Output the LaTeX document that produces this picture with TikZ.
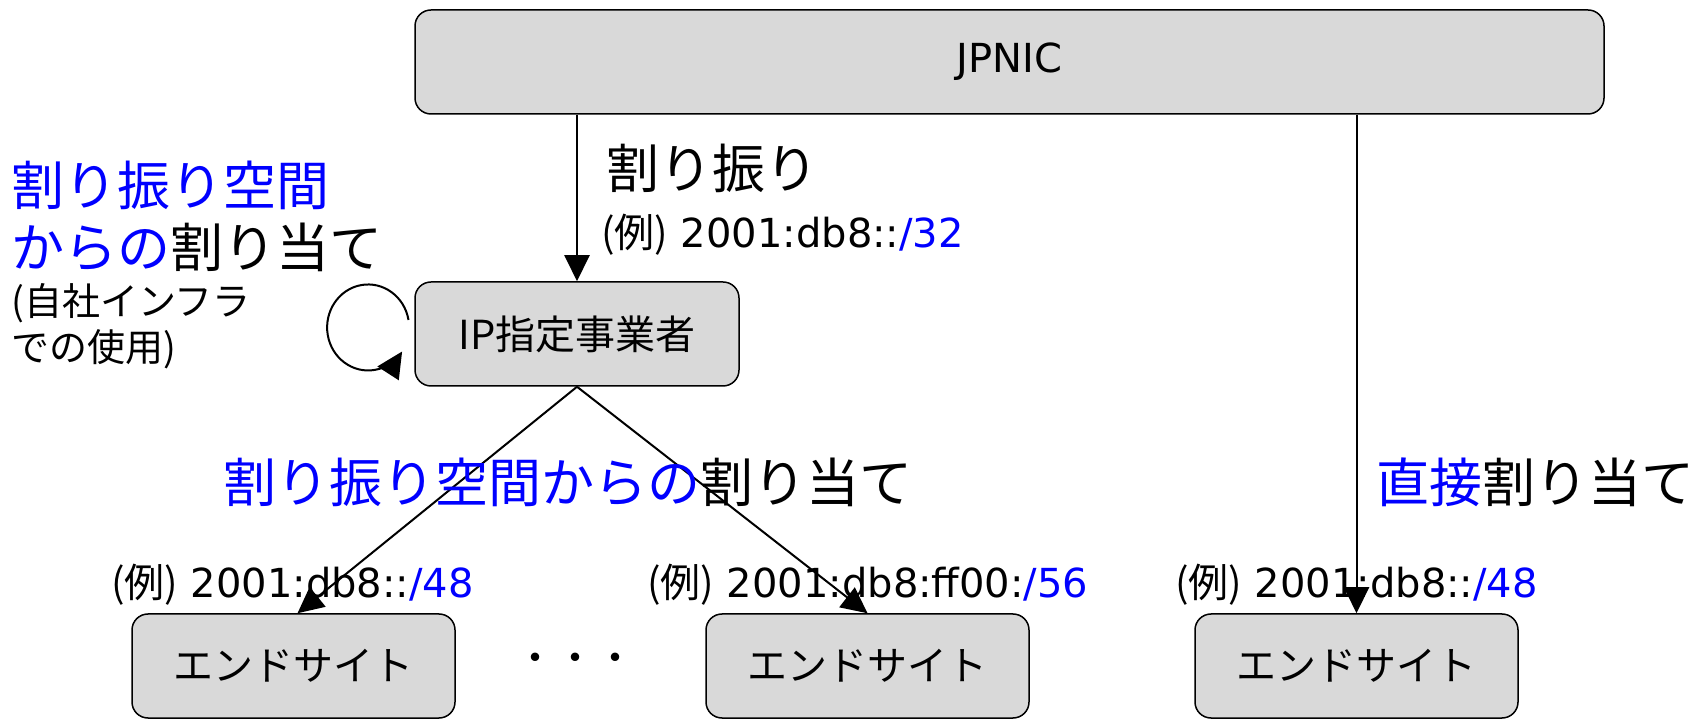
\documentclass[tikz,border=0pt]{standalone}
\usepackage{fontspec}
\setmainfont{DejaVu Sans}
\newfontfamily\cjk{Noto Sans CJK JP}
\usetikzlibrary{arrows.meta}
\tikzset{
  box/.style={draw=black, line width=1.5pt, fill=boxgray, rounded corners=16pt, inner sep=0pt, font=\cjk\fontsize{40}{44}\selectfont},
  arr/.style={line width=2pt, -{Triangle[length=26pt,width=25pt]}},
  big/.style={anchor=west, inner sep=0pt, font=\cjk\fontsize{53}{60}\selectfont},
  ex/.style={anchor=west, inner sep=0pt, font=\fontsize{40}{44}\selectfont},
  small/.style={anchor=west, inner sep=0pt, font=\cjk\fontsize{38}{42}\selectfont},
}
\definecolor{boxgray}{RGB}{217,217,217}
\definecolor{lblue}{RGB}{0,0,255}
\begin{document}
\begin{tikzpicture}[x=1pt,y=1pt]
\useasboundingbox (0,0) rectangle (1699,720);
\fill[white] (0,0) rectangle (1699,720);
% boxes
\node[box, minimum width=1189pt, minimum height=104pt] (J) at (1009.5,658) {\fontspec{DejaVu Sans}JPNIC};
\node[box, minimum width=324pt, minimum height=104pt] (IP) at (577,386) {IP指定事業者};
\node[box, minimum width=323pt, minimum height=104pt] (E1) at (293.5,54) {エンドサイト};
\node[box, minimum width=323pt, minimum height=104pt] (E2) at (867.5,54) {エンドサイト};
\node[box, minimum width=323pt, minimum height=104pt] (E3) at (1356.5,54) {エンドサイト};
\node[inner sep=0pt, font=\cjk\fontsize{40}{44}\selectfont] (dots) at (575,57) {・・・};
% connectors
\draw[arr] (IP.north |- J.south) -- (IP.north);
\draw[arr] (E3.north |- J.south) -- (E3.north);
\draw[arr] (IP.south) -- ([xshift=4pt]E1.north);
\draw[arr] (IP.south) -- (E2.north);
\coordinate (ls) at (408.5,400);
\draw[arr] (ls) arc[start angle=10, end angle=326, x radius=41, y radius=43];
% labels
\node[big] (l1) at (606,552) {割り振り};
\node[ex] (l2) at (601,485) {{\cjk (例)} 2001:db8::\textcolor{lblue}{/32}};
\node[big] (l3) at (11,535) {\textcolor{lblue}{割り振り空間}};
\node[big] (l4) at (11,473) {\textcolor{lblue}{からの}割り当て};
\node[small] (l5) at (11,417) {(自社インフラ};
\node[small] (l6) at (11,371) {での使用)};
\node[big] (l7) at (223,238) {\textcolor{lblue}{割り振り空間からの}割り当て};
\node[big] (l8) at (1376,238) {\textcolor{lblue}{直接}割り当て};
\node[ex] (l9) at (111,135) {{\cjk (例)} 2001:db8::\textcolor{lblue}{/48}};
\node[ex] (l10) at (647,135) {{\cjk (例)} 2001:db8:ff00:\textcolor{lblue}{/56}};
\node[ex] (l11) at (1175,135) {{\cjk (例)} 2001:db8::\textcolor{lblue}{/48}};
\end{tikzpicture}
\end{document}
